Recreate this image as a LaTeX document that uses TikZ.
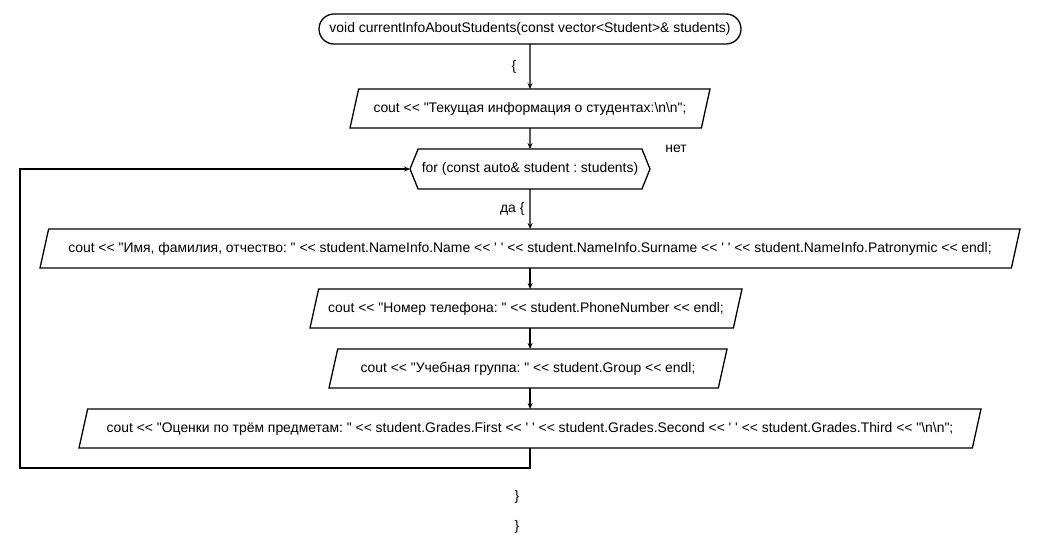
\documentclass[tikz,border=0pt]{standalone}
\usepackage{fontspec}
\newfontfamily\flowfont{Liberation Sans}
\newcommand\flowsize{\fontsize{13.9}{16}\selectfont\frenchspacing}
\usetikzlibrary{shapes.geometric,shapes.symbols,arrows.meta}
\tikzset{
  flow/.style={draw,line width=1.3pt,font=\flowfont\flowsize,inner sep=2pt,outer sep=0pt},
  term/.style={flow,rectangle,rounded corners=15pt,minimum width=422pt,minimum height=30pt},
  io/.style={flow,trapezium,trapezium left angle=63,trapezium right angle=117,
    trapezium stretches body,minimum height=39pt},
  loophead/.style={flow,signal,signal to=west and east,signal pointer angle=136,
    minimum width=240pt,minimum height=40pt},
  lbl/.style={font=\flowfont\flowsize,inner sep=1pt},
  line/.style={line width=1.3pt,-{Stealth[length=6pt,width=5pt]}}
}
\begin{document}
\begin{tikzpicture}[x=1pt,y=-1pt]
\useasboundingbox (0,0) rectangle (1038,556);

\node[term] (start) at (530,29) {void currentInfoAboutStudents(const vector<Student>\& students)};
\node[io,minimum width=360pt] (head) at (530,108.5) {cout << "Текущая информация о студентах:\textbackslash n\textbackslash n";};
\node[loophead] (loop) at (530,169) {for (const auto\& student : students)};
\node[io,minimum width=980pt] (name) at (530,248.5) {cout << "Имя, фамилия, отчество: " << student.NameInfo.Name << ' ' << student.NameInfo.Surname << ' ' << student.NameInfo.Patronymic << endl;};
\node[io,minimum width=432pt] (phone) at (526,308.5) {cout << "Номер телефона: " << student.PhoneNumber << endl;};
\node[io,minimum width=398pt] (group) at (528,368.5) {cout << "Учебная группа: " << student.Group << endl;};
\node[io,minimum width=902pt] (grades) at (530,428.5) {cout << "Оценки по трём предметам: " << student.Grades.First << ' ' << student.Grades.Second << ' ' << student.Grades.Third << "\textbackslash n\textbackslash n";};

\coordinate (back) at (20,468);

% connectors
\draw[line] (start) -- node[lbl,left,xshift=-12pt]{\{} (head);
\draw[line] (head) -- (loop);
\draw[line] (loop) -- node[lbl,left,xshift=-4pt]{да \{} (name);
\draw[line] (name.south) -- (name.south |- phone.north);
\draw[line] (name.south |- phone.south) -- (name.south |- group.north);
\draw[line] (name.south |- group.south) -- (name.south |- grades.north);
\draw[line] (grades.south) |- (back) |- (loop.west);

\node[lbl] (nolabel) at (676,149) {нет};
\node[lbl] (close1) at (517,497) {\}};
\node[lbl] (close2) at (517,527) {\}};
\end{tikzpicture}
\end{document}
